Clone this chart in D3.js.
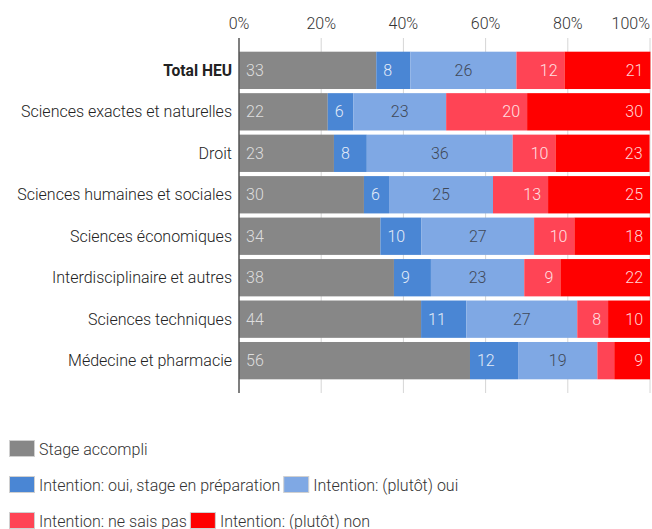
<!DOCTYPE html>
<html>
<head>
<meta charset="utf-8">
<script src="https://cdn.jsdelivr.net/npm/d3@7"></script>
<style>
  html, body { margin: 0; padding: 0; background: #fff; }
  svg { display: block; font-family: Roboto, "Noto Sans", sans-serif; }
</style>
</head>
<body>
<svg id="chart" width="652" height="529"></svg>
<script>
const categories = [
  "Total HEU",
  "Sciences exactes et naturelles",
  "Droit",
  "Sciences humaines et sociales",
  "Sciences économiques",
  "Interdisciplinaire et autres",
  "Sciences techniques",
  "Médecine et pharmacie"
];
const seriesNames = [
  "Stage accompli",
  "Intention: oui, stage en préparation",
  "Intention: (plutôt) oui",
  "Intention: ne sais pas",
  "Intention: (plutôt) non"
];
const stageAccompli = [33.4, 21.6, 23.1, 30.4, 34.4, 37.7, 44.3, 56.2];
const ouiPreparation = [8.3, 6.2, 8.0, 6.1, 10.0, 9.0, 11.0, 11.7];
const plutotOui = [25.8, 22.6, 35.5, 25.3, 27.4, 22.7, 27.0, 19.3];
const neSaisPas = [11.7, 19.7, 10.4, 13.4, 9.8, 8.8, 7.5, 4.1];
const plutotNon = [20.9, 29.9, 22.9, 24.8, 18.4, 21.8, 10.2, 8.7];
const tickValues = [0, 20, 40, 60, 80, 100];
const tickLabels = ["0%", "20%", "40%", "60%", "80%", "100%"];

const colors = ["#878787", "#4a86d4", "#7fa8e4", "#ff4455", "#ff0000"];
const labelColors = ["#dedede", "#e4ecf8", "#3f4958", "#ffe0e2", "#ffd6d6"];
const labelAlign = ["start", "start", "middle", "end", "end"];

const seriesValues = [stageAccompli, ouiPreparation, plutotOui, neSaisPas, plutotNon];
const rows = categories.map((c, i) => {
  const r = { cat: c };
  seriesNames.forEach((s, k) => r[s] = seriesValues[k][i]);
  return r;
});

const FS = 16;
const svg = d3.select("#chart");
const mLeft = 239, mRight = 650, mTop = 38, mBottom = 393;

const x = d3.scaleLinear().domain([0, 100]).range([mLeft, mRight]);
const y = d3.scaleBand().domain(categories).range([mTop, mBottom]).paddingInner(0.1).paddingOuter(0.33);

// gridlines
svg.append("g").selectAll("line").data(tickValues.filter(v => v > 0)).join("line")
  .attr("x1", d => x(d)).attr("x2", d => x(d))
  .attr("y1", mTop).attr("y2", mBottom)
  .attr("stroke", "#d6d6d6").attr("stroke-width", 1);

// tick labels
svg.append("g").selectAll("text").data(tickValues).join("text")
  .attr("x", d => x(d))
  .attr("y", 29)
  .attr("text-anchor", (d, i) => i === tickValues.length - 1 ? "end" : "middle")
  .attr("font-size", FS).attr("font-weight", 300).attr("fill", "#333")
  .text((d, i) => tickLabels[i]);

const stacked = d3.stack().keys(seriesNames)(rows);

const g = svg.append("g");
stacked.forEach((layer, k) => {
  const key = seriesNames[k];
  const sg = g.append("g");
  sg.selectAll("rect").data(layer).join("rect")
    .attr("x", d => x(d[0]))
    .attr("y", d => y(d.data.cat))
    .attr("width", d => x(d[1]) - x(d[0]))
    .attr("height", y.bandwidth())
    .attr("fill", colors[k]);
  sg.selectAll("text").data(layer.filter(d => Math.round(d.data[key]) >= 5)).join("text")
    .attr("x", d => labelAlign[k] === "start" ? x(d[0]) + 7 : labelAlign[k] === "end" ? x(d[1]) - 7 : (x(d[0]) + x(d[1])) / 2)
    .attr("y", d => y(d.data.cat) + y.bandwidth() / 2)
    .attr("dy", "0.35em")
    .attr("text-anchor", labelAlign[k])
    .attr("font-size", FS).attr("font-weight", 300)
    .attr("fill", labelColors[k])
    .text(d => Math.round(d.data[key]));
});

// left axis line
svg.append("line").attr("x1", mLeft).attr("x2", mLeft).attr("y1", mTop).attr("y2", mBottom)
  .attr("stroke", "#555").attr("stroke-width", 1.5);

// category labels
svg.append("g").selectAll("text").data(categories).join("text")
  .attr("x", mLeft - 7)
  .attr("y", d => y(d) + y.bandwidth() / 2)
  .attr("dy", "0.35em")
  .attr("text-anchor", "end")
  .attr("font-size", (d, i) => i === 0 ? 15.6 : FS)
  .attr("font-weight", (d, i) => i === 0 ? "bold" : 300)
  .attr("fill", "#222")
  .text(d => d);

// legend
const legendRows = [[0], [1, 2], [3, 4]];
const legendY = [449, 485, 521];
const leg = svg.append("g");
legendRows.forEach((row, ri) => {
  let cx = 9;
  row.forEach(k => {
    leg.append("rect").attr("x", cx + 0.5).attr("y", legendY[ri] - 8.5).attr("width", 25).attr("height", 16)
      .attr("fill", colors[k]).attr("stroke", "#d0d0d0").attr("stroke-width", 1);
    const t = leg.append("text").attr("x", cx + 30).attr("y", legendY[ri]).attr("dy", "0.35em")
      .attr("font-size", FS).attr("font-weight", 300).attr("fill", "#333").text(seriesNames[k]);
    cx = cx + 30 + t.node().getComputedTextLength() + 3;
  });
});
</script>
</body>
</html>
